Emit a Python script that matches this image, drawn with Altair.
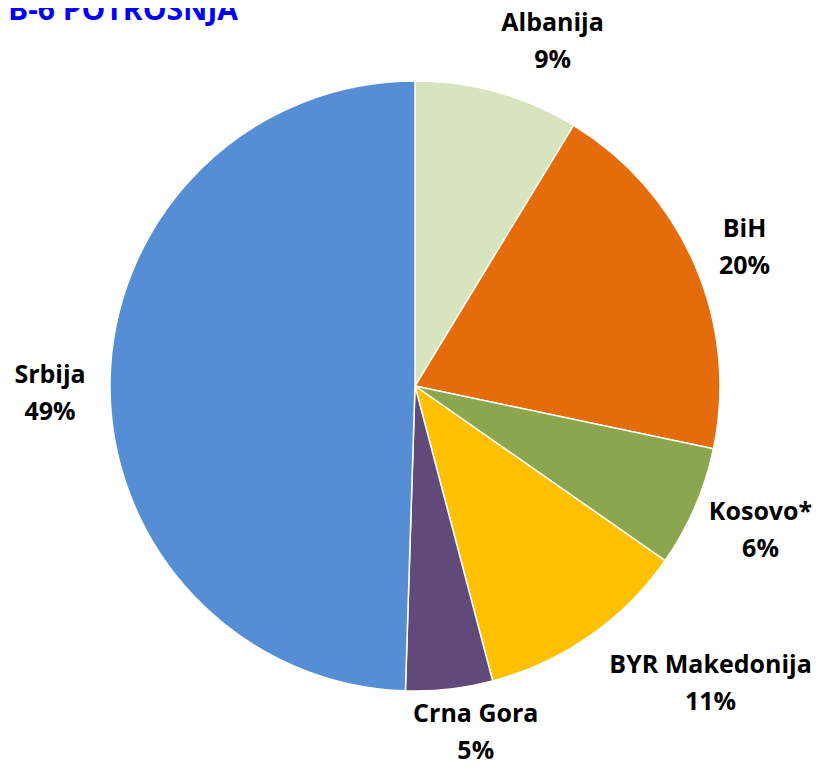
import altair as alt
import pandas as pd

countries = ["Albanija", "BiH", "Kosovo*", "BYR Makedonija", "Crna Gora", "Srbija"]
shares = [8.7, 19.6, 6.4, 11.2, 4.6, 49.5]
pct_labels = ["9%", "20%", "6%", "11%", "5%", "49%"]
colors = ["#D7E4BD", "#E46C0A", "#8BA64E", "#FFC000", "#604A7B", "#558ED5"]
# label placement (angle in degrees clockwise from 12 o'clock, distance in px)
label_angle = [21.7, 67.0, 112.5, 135.0, 170.0, 269.0]
label_dist = [372, 358, 374, 418, 350, 365]

df = pd.DataFrame({
    "country": countries,
    "share": shares,
    "idx": list(range(len(countries))),
    "label": [f"{c}\n{p}" for c, p in zip(countries, pct_labels)],
    "lpos": [a / 360 * 100 for a in label_angle],
    "ldist": label_dist,
})

cx, cy = 407, 378
theta_scale = alt.Scale(domain=[0, 100])

arcs = alt.Chart(df).mark_arc(radius=305, stroke="white", strokeWidth=1.5).encode(
    theta=alt.Theta("share:Q", stack=True, scale=theta_scale),
    order=alt.Order("idx:Q"),
    color=alt.Color("country:N", scale=alt.Scale(domain=countries, range=colors), legend=None),
    x=alt.value(cx), y=alt.value(cy),
)

labels = alt.Chart(df).mark_text(
    font="Open Sans", fontSize=25, fontWeight="bold", color="black",
    lineBreak="\n", lineHeight=37, align="center", baseline="middle", dy=-17,
).encode(
    theta=alt.Theta("lpos:Q", stack=False, scale=theta_scale),
    radius=alt.Radius("ldist:Q", scale=alt.Scale(type="linear", domain=[0, 500], range=[0, 500], zero=True)),
    text="label:N",
    x=alt.value(cx), y=alt.value(cy),
)

title = alt.Chart(pd.DataFrame({"t": ["B-6 POTROSNJA"]})).mark_text(
    font="Open Sans", fontSize=30, fontWeight="bold", color="#0000FF",
    align="left", baseline="alphabetic",
).encode(text="t:N", x=alt.value(0), y=alt.value(12))

chart = alt.layer(arcs, labels, title).properties(
    width=807, height=752, padding=0,
    autosize=alt.AutoSizeParams(type="none"),
).configure_view(stroke=None)

chart.save("out.html", embed_options={"renderer": "svg", "actions": False})
